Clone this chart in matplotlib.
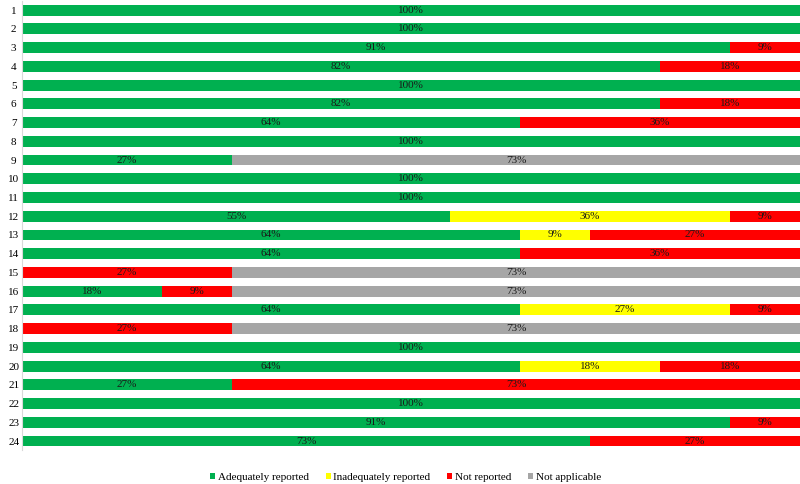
import matplotlib
matplotlib.use("Agg")
import matplotlib.pyplot as plt
import numpy as np

items = [str(i) for i in range(1, 25)]
adequate =   [100,100,91,82,100,82,64,100,27,100,100,55,64,64,0,18,64,0,100,64,27,100,91,73]
inadequate = [0,0,0,0,0,0,0,0,0,0,0,36,9,0,0,0,27,0,0,18,0,0,0,0]
not_rep =    [0,0,9,18,0,18,36,0,0,0,0,9,27,36,27,9,9,27,0,18,73,0,9,27]
not_appl =   [0,0,0,0,0,0,0,0,73,0,0,0,0,0,73,73,0,73,0,0,0,0,0,0]

series = [
    ("Adequately reported", adequate, "#00B050"),
    ("Inadequately reported", inadequate, "#FFFF00"),
    ("Not reported", not_rep, "#FF0000"),
    ("Not applicable", not_appl, "#A6A6A6"),
]

plt.rcParams['font.family'] = ['Liberation Serif', 'DejaVu Serif']

fig = plt.figure(figsize=(8, 4.84), dpi=100)
ax = fig.add_axes([0.0275, 0.0694, 0.9725, 0.929])

y = np.arange(len(items))
left = np.zeros(len(items))
for name, vals, col in series:
    vals = np.array(vals, dtype=float)
    ax.barh(y, vals, left=left, height=0.58, color=col, label=name, edgecolor='none')
    for yi, (l, v) in enumerate(zip(left, vals)):
        if v > 0:
            ax.text(l + v / 2, yi, f"{int(v)}%", ha='center', va='center', fontsize=8, color='#1a1a1a')
    left += vals

ax.set_xlim(0, 100)
ax.set_ylim(len(items) - 0.5, -0.5)
ax.set_yticks(y)
ax.set_yticklabels(items, fontsize=8)
ax.set_xticks([])
ax.tick_params(axis='y', length=0, pad=6)
for lbl in ax.get_yticklabels():
    lbl.set_horizontalalignment('center')
for s in ['top', 'right', 'bottom']:
    ax.spines[s].set_visible(False)
ax.spines['left'].set_color('#D9D9D9')
ax.spines['left'].set_linewidth(0.8)

fig.legend(loc='center', bbox_to_anchor=(0.507, 1 - 477 / 484), ncol=4, frameon=False,
           fontsize=8, handlelength=0.45, handleheight=0.45, handletextpad=0.25, columnspacing=1.5)

fig.savefig("out.png", dpi=100)
